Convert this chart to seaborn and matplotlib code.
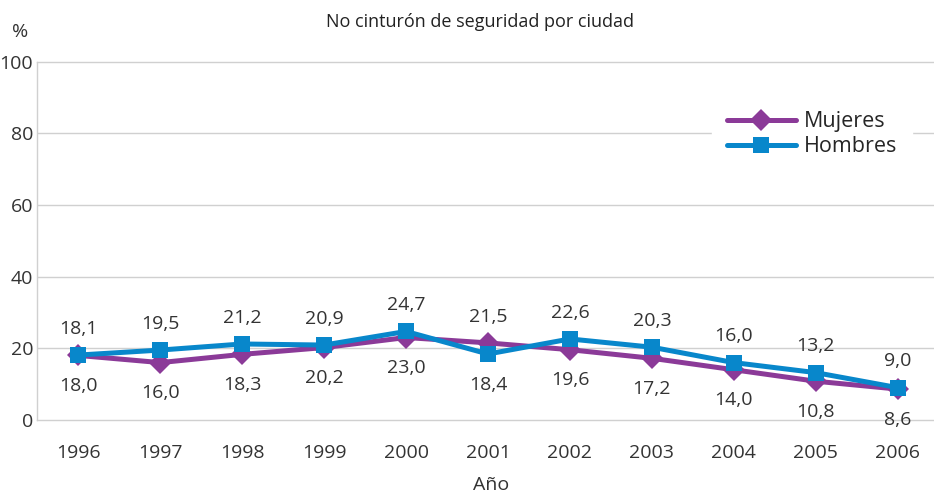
import matplotlib
matplotlib.use("Agg")
import matplotlib.pyplot as plt
import seaborn as sns
import numpy as np
import pandas as pd

# Data
years = [1996, 1997, 1998, 1999, 2000, 2001, 2002, 2003, 2004, 2005, 2006]
mujeres = [18.0, 16.0, 18.3, 20.2, 23.0, 21.5, 19.6, 17.2, 14.0, 10.8, 8.6]
hombres = [18.1, 19.5, 21.2, 20.9, 24.7, 18.4, 22.6, 20.3, 16.0, 13.2, 9.0]
yticks = [0, 20, 40, 60, 80, 100]

PURPLE = "#8B3A98"
BLUE = "#0887CB"
TXT = "#333333"
GRID = "#D0D0D0"

sns.set_theme(style="white")
plt.rcParams['font.family'] = ['Open Sans', 'DejaVu Sans']

df = pd.DataFrame({"year": years * 2,
                   "value": mujeres + hombres,
                   "serie": ["Mujeres"] * len(years) + ["Hombres"] * len(years)})

fig = plt.figure(figsize=(9.34, 4.94), dpi=100)
ax = fig.add_axes([0.040, 0.150, 0.965, 0.725])

sns.lineplot(data=df, x="year", y="value", hue="serie", style="serie",
             palette={"Mujeres": PURPLE, "Hombres": BLUE},
             markers={"Mujeres": "D", "Hombres": "s"}, dashes=False,
             markersize=11, linewidth=3.6, markeredgewidth=0,
             ax=ax, zorder=3)

# data labels: higher value above, lower below
for x, m, h in zip(years, mujeres, hombres):
    hi, lo = max(m, h), min(m, h)
    ax.annotate(f"{hi:.1f}".replace(".", ","), (x, hi), xytext=(0, 19),
                textcoords="offset points", ha="center", va="center",
                fontsize=14, color=TXT)
    ax.annotate(f"{lo:.1f}".replace(".", ","), (x, lo), xytext=(0, -22),
                textcoords="offset points", ha="center", va="center",
                fontsize=14, color=TXT)

ax.set_xlim(years[0] - 0.5, years[-1] + 0.5)
ax.set_ylim(0, 100)
ax.set_yticks(yticks)
ax.set_yticklabels([str(v) for v in yticks], fontsize=14, color=TXT)
ax.set_xticks(years)
ax.set_xticklabels([str(y) for y in years], fontsize=14, color=TXT)
ax.set_xticks(np.arange(years[0] - 0.5, years[-1] + 1.0, 1.0), minor=True)
ax.tick_params(axis="x", which="major", length=0, pad=17)
ax.tick_params(axis="x", which="minor", length=8, width=1, color=GRID, direction="out")
ax.tick_params(axis="y", length=0, pad=3)

for v in yticks[1:-1]:
    ax.axhline(v, color=GRID, linewidth=1, zorder=0)

for side in ["left", "bottom", "top"]:
    ax.spines[side].set_color(GRID)
    ax.spines[side].set_linewidth(1)
ax.spines["right"].set_visible(False)

ax.set_xlabel("")
ax.set_ylabel("")
fig.text(0.526, 0.0, "Año", fontsize=14, color=TXT, ha="center", va="bottom")
fig.text(0.022, 0.925, "%", fontsize=14, color=TXT, ha="center")
fig.text(0.514, 0.945, "No cinturón de seguridad por ciudad", fontsize=13,
         color="#222222", ha="center")

leg = ax.legend(loc="upper left", bbox_to_anchor=(0.762, 0.805),
                bbox_transform=fig.transFigure, frameon=True,
                fontsize=15.5, handlelength=3.2, handletextpad=0.37,
                labelspacing=0.18, borderpad=0.7, borderaxespad=0)
leg.get_frame().set_facecolor("white")
leg.get_frame().set_edgecolor("white")
leg.get_frame().set_alpha(1)

plt.savefig("out.png", dpi=100)
plt.close("all")
